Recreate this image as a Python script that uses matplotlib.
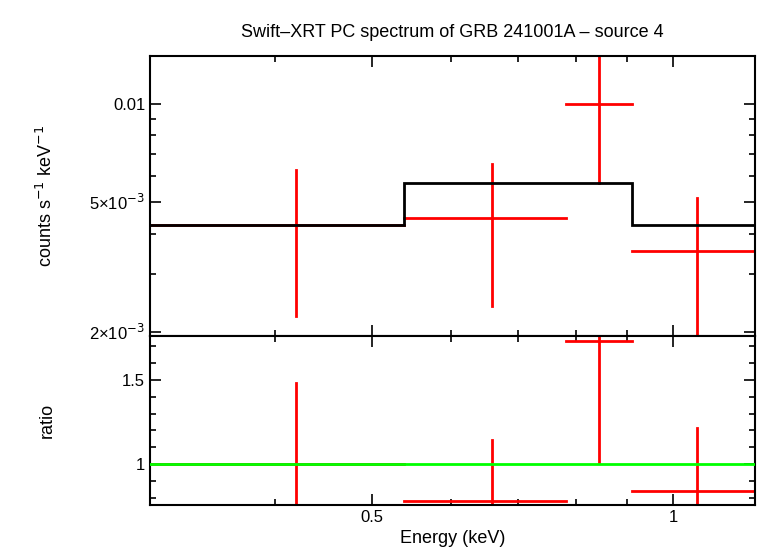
import matplotlib
matplotlib.use("Agg")
import matplotlib.pyplot as plt
import numpy as np
from matplotlib.ticker import FixedLocator, NullFormatter, NullLocator

plt.rcParams['font.family'] = 'Liberation Sans'

e_lo = [0.300, 0.539, 0.781, 0.910]
e_hi = [0.539, 0.781, 0.910, 1.208]
e_c = [0.420, 0.659, 0.843, 1.057]
rate = [4.25e-3, 4.47e-3, 1.00e-2, 3.54e-3]
rate_lo = [2.23e-3, 2.40e-3, 5.72e-3, 1.5e-3]
rate_hi = [6.27e-3, 6.54e-3, 1.45e-2, 5.14e-3]
model_edges = [0.300, 0.539, 0.910, 1.208]
model_vals = [4.25e-3, 5.72e-3, 4.25e-3]
ratio = [1.0, 0.780, 1.732, 0.839]
ratio_lo = [0.5, 0.4, 1.012, 0.4]
ratio_hi = [1.482, 1.143, 2.2, 1.214]

W, H = 758, 556
fig = plt.figure(figsize=(W/100, H/100), dpi=100)
L, R = 150/W, 755/W
ax1 = fig.add_axes([L, 1-336/H, R-L, (336-56)/H])
ax2 = fig.add_axes([L, 1-505/H, R-L, (505-336)/H], sharex=ax1)

xl = (0.300, 1.208)
for a in (ax1, ax2):
    a.set_xscale('log')
    a.set_xlim(*xl)
    a.tick_params(which='both', direction='in', top=True, right=True, width=1.2, labelsize=12)
    a.tick_params(which='major', length=8)
    a.tick_params(which='minor', length=4)
    for s in a.spines.values():
        s.set_linewidth(1.5)
    a.xaxis.set_major_locator(FixedLocator([0.5, 1.0]))
    a.xaxis.set_minor_locator(FixedLocator([0.3, 0.4, 0.6, 0.7, 0.8, 0.9]))
    a.xaxis.set_minor_formatter(NullFormatter())

red = '#ff0000'
# top panel
ax1.set_yscale('log')
ax1.set_ylim(1.939e-3, 1.402e-2)
for i in range(len(e_c)):
    ax1.plot([e_lo[i], e_hi[i]], [rate[i], rate[i]], color=red, lw=2, zorder=2)
    ax1.plot([e_c[i], e_c[i]], [rate_lo[i], rate_hi[i]], color=red, lw=2, zorder=2)
ax1.stairs(model_vals, model_edges, color='black', lw=2, baseline=None, zorder=3)
ax1.yaxis.set_major_locator(FixedLocator([2e-3, 5e-3, 1e-2]))
ax1.set_yticklabels(['2×10$^{-3}$', '5×10$^{-3}$', '0.01'])
ax1.yaxis.set_minor_locator(FixedLocator([3e-3, 4e-3, 6e-3, 7e-3, 8e-3, 9e-3]))
ax1.yaxis.set_minor_formatter(NullFormatter())
ax1.set_ylabel('counts s$^{-1}$ keV$^{-1}$', fontsize=13)
plt.setp(ax1.get_xticklabels(), visible=False)
ax1.set_title('Swift–XRT PC spectrum of GRB 241001A – source 4', fontsize=13, pad=14)

# bottom panel
ax2.set_ylim(0.756, 1.762)
for i in range(len(e_c)):
    ax2.plot([e_lo[i], e_hi[i]], [ratio[i], ratio[i]], color=red, lw=2, zorder=2)
    ax2.plot([e_c[i], e_c[i]], [ratio_lo[i], ratio_hi[i]], color=red, lw=2, zorder=2)
ax2.axhline(1.0, color='#00ff00', lw=2, zorder=3)
ax2.yaxis.set_major_locator(FixedLocator([1.0, 1.5]))
ax2.set_yticklabels(['1', '1.5'])
ax2.yaxis.set_minor_locator(FixedLocator([0.8, 0.9, 1.1, 1.2, 1.3, 1.4, 1.6, 1.7]))
ax2.set_xticklabels(['0.5', '1'])
ax2.set_ylabel('ratio', fontsize=13)
ax2.set_xlabel('Energy (keV)', fontsize=13, labelpad=4)
ax1.yaxis.set_label_coords(-0.155, 0.5)
ax2.yaxis.set_label_coords(-0.155, 0.5)

fig.savefig('out.png', dpi=100)
